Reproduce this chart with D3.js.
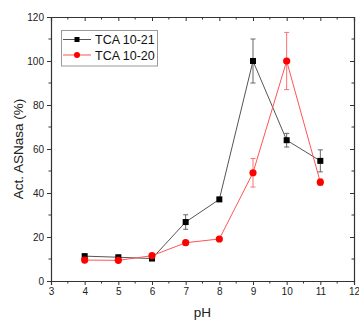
<!DOCTYPE html>
<html><head><meta charset="utf-8">
<script src="https://cdn.jsdelivr.net/npm/d3@7"></script>
<style>html,body{margin:0;padding:0;background:#fff;overflow:hidden}svg{display:block}</style>
</head><body>
<svg id="c" width="359" height="320"></svg>
<script>
const pH = [4, 5, 6, 7, 8, 9, 10, 11];
const tca1021 = [11.3, 10.8, 10.2, 26.8, 37.1, 100, 64, 54.6];
const tca1021Err = [0, 0, 0, 3.3, 0, 10, 3.1, 5];
const tca1020 = [9.5, 9.4, 11.5, 17.4, 19.1, 49.2, 100, 44.9];
const tca1020Err = [0, 0, 0, 0, 0, 6.5, 13, 1.5];
const seriesNames = ["TCA 10-21", "TCA 10-20"];
const xTicks = [3, 4, 5, 6, 7, 8, 9, 10, 11, 12];
const yTicks = [0, 20, 40, 60, 80, 100, 120];

const svg = d3.select("#c");
const L = 51, R = 354, T = 17, B = 281;
const x = d3.scaleLinear().domain([3, 12]).range([L, R]);
const y = d3.scaleLinear().domain([0, 120]).range([B, T]);
const font = "Liberation Sans, Arial, sans-serif";
const axisCol = "#333";

const xMinor = d3.range(3.5, 12, 1);
const yMinor = d3.range(10, 120, 20);

function styleAxis(g) {
  g.select(".domain").attr("stroke", axisCol).attr("stroke-width", 1.2);
  g.selectAll(".tick line").attr("stroke", axisCol).attr("stroke-width", 1);
  g.selectAll("text").attr("font-family", font).attr("font-size", "10px").attr("fill", "#222");
}

const gb = svg.append("g").attr("transform", `translate(0,${B})`)
  .call(d3.axisBottom(x).tickValues(xTicks).tickFormat(d3.format("d")).tickSizeOuter(0).tickSize(4).tickPadding(3));
styleAxis(gb);
gb.selectAll(".minor").data(xMinor).enter().append("line")
  .attr("x1", d => x(d)).attr("x2", d => x(d)).attr("y1", 0).attr("y2", 2.5).attr("stroke", axisCol);
const gl = svg.append("g").attr("transform", `translate(${L},0)`)
  .call(d3.axisLeft(y).tickValues(yTicks).tickSizeOuter(0).tickSize(4).tickPadding(3));
styleAxis(gl);
gl.selectAll(".minor").data(yMinor).enter().append("line")
  .attr("y1", d => y(d)).attr("y2", d => y(d)).attr("x1", 0).attr("x2", -2.5).attr("stroke", axisCol);
const gt = svg.append("g").attr("transform", `translate(0,${T})`)
  .call(d3.axisTop(x).tickValues(xTicks).tickFormat("").tickSizeOuter(0).tickSize(-4));
styleAxis(gt);
gt.selectAll(".minor").data(xMinor).enter().append("line")
  .attr("x1", d => x(d)).attr("x2", d => x(d)).attr("y1", 0).attr("y2", 2.5).attr("stroke", axisCol);
const gr = svg.append("g").attr("transform", `translate(${R},0)`)
  .call(d3.axisRight(y).tickValues(yTicks).tickFormat("").tickSizeOuter(0).tickSize(-4));
styleAxis(gr);
gr.selectAll(".minor").data(yMinor).enter().append("line")
  .attr("y1", d => y(d)).attr("y2", d => y(d)).attr("x1", 0).attr("x2", -2.5).attr("stroke", axisCol);

svg.append("text").attr("x", (L + R) / 2).attr("y", 316.5).attr("text-anchor", "middle")
  .attr("font-family", font).attr("font-size", "13.5px").attr("fill", "#222").text("pH");
svg.append("text").attr("transform", `translate(23,${(T + B) / 2}) rotate(-90)`).attr("text-anchor", "middle")
  .attr("font-family", font).attr("font-size", "13.5px").attr("fill", "#222").text("Act. ASNasa (%)");

const series = [
  {name: seriesNames[0], vals: tca1021, err: tca1021Err, line: "#555", err_c: "#666", fill: "#000", shape: "square"},
  {name: seriesNames[1], vals: tca1020, err: tca1020Err, line: "#ff5555", err_c: "#ff7070", fill: "#ff0000", shape: "circle"}
];

const line = d3.line().x(d => x(d[0])).y(d => y(d[1]));

series.forEach(s => {
  const pts = pH.map((p, i) => [p, s.vals[i], s.err[i]]);
  const g = svg.append("g");
  g.append("path").datum(pts).attr("d", line).attr("fill", "none").attr("stroke", s.line).attr("stroke-width", 1);
  const eb = g.selectAll(".eb").data(pts.filter(d => d[2] > 0)).enter().append("g");
  eb.append("line").attr("x1", d => x(d[0])).attr("x2", d => x(d[0]))
    .attr("y1", d => y(d[1] - d[2])).attr("y2", d => y(d[1] + d[2])).attr("stroke", s.err_c);
  [-1, 1].forEach(sg => {
    eb.append("line").attr("x1", d => x(d[0]) - 2.5).attr("x2", d => x(d[0]) + 2.5)
      .attr("y1", d => y(d[1] + sg * d[2])).attr("y2", d => y(d[1] + sg * d[2])).attr("stroke", s.err_c);
  });
  if (s.shape === "square") {
    g.selectAll(".m").data(pts).enter().append("rect")
      .attr("x", d => x(d[0]) - 3).attr("y", d => y(d[1]) - 3).attr("width", 6).attr("height", 6).attr("fill", s.fill);
  } else {
    g.selectAll(".m").data(pts).enter().append("circle")
      .attr("cx", d => x(d[0])).attr("cy", d => y(d[1])).attr("r", 3.6).attr("fill", s.fill);
  }
});

const lg = svg.append("g");
lg.append("rect").attr("x", 61.5).attr("y", 30.5).attr("width", 96).attr("height", 35.5)
  .attr("fill", "#fff").attr("stroke", "#999").attr("stroke-width", 1);
series.forEach((s, i) => {
  const yy = 39.5 + i * 15.5;
  lg.append("line").attr("x1", 63).attr("x2", 91).attr("y1", yy).attr("y2", yy).attr("stroke", s.line);
  if (s.shape === "square") lg.append("rect").attr("x", 74.5).attr("y", yy - 2.5).attr("width", 5).attr("height", 5).attr("fill", s.fill);
  else lg.append("circle").attr("cx", 77).attr("cy", yy).attr("r", 3).attr("fill", s.fill);
  lg.append("text").attr("x", 95).attr("y", yy + 4.5).attr("font-family", font).attr("font-size", "12.5px")
    .attr("fill", "#111").text(s.name);
});
</script>
</body></html>
